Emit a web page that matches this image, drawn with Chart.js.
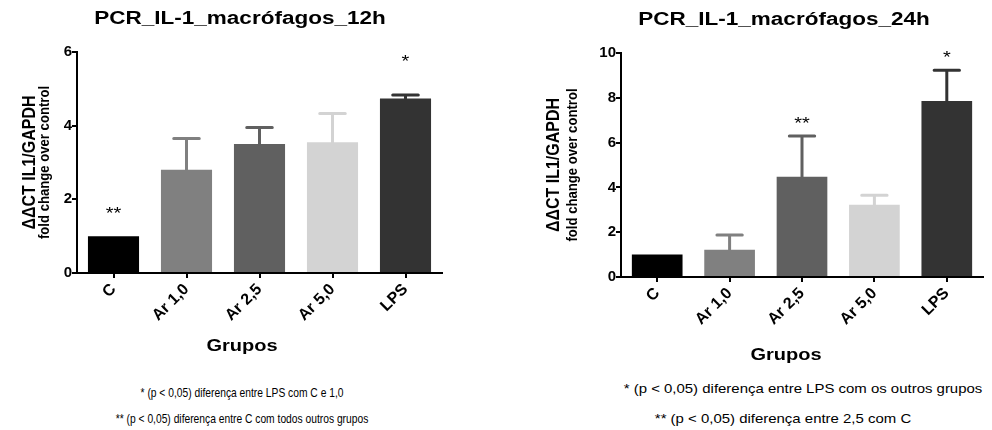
<!DOCTYPE html>
<html>
<head>
<meta charset="utf-8">
<script src="https://cdn.jsdelivr.net/npm/chart.js@4"></script>
<style>
  body { margin: 0; background: #fff; width: 992px; height: 430px; position: relative; overflow: hidden; }
  canvas { position: absolute; top: 0; }
  .nota { position: absolute; color: #000; white-space: nowrap; }
  .estreita { font: 13px "Liberation Sans", Arial, sans-serif; transform: translateX(-50%) scaleX(0.79); }
  .larga { font: 13px "Liberation Sans", Arial, sans-serif; transform: translateX(-50%) scaleX(1.15); }
</style>
</head>
<body>
<canvas id="grafico12h" width="496" height="370" style="left:0"></canvas>
<canvas id="grafico24h" width="496" height="370" style="left:496px"></canvas>

<div class="nota estreita" style="left:242px; top:385px">* (p &lt; 0,05) diferença entre LPS com C e 1,0</div>
<div class="nota estreita" style="left:242px; top:411px">** (p &lt; 0,05) diferença entre C com todos outros grupos</div>
<div class="nota larga" style="left:803px; top:381px">* (p &lt; 0,05) diferença entre LPS com os outros grupos</div>
<div class="nota larga" style="left:783px; top:411px">** (p &lt; 0,05) diferença entre 2,5 com C</div>

<script>
const grupos = ['C', 'Ar 1,0', 'Ar 2,5', 'Ar 5,0', 'LPS'];
const cores = ['#000000', '#808080', '#606060', '#d3d3d3', '#333333'];

// 12h
const media12h = [1.0, 2.80, 3.50, 3.55, 4.74];
const erro12h = [0, 0.85, 0.45, 0.78, 0.09];
const marca12h = ['**', '', '', '', '*'];
const marcaY12h = [1.7, null, null, null, 5.85];
const ticksY12h = [0, 2, 4, 6];

// 24h
const media24h = [1.0, 1.22, 4.48, 3.22, 7.86];
const erro24h = [0, 0.66, 1.81, 0.43, 1.37];
const marca24h = ['', '', '**', '', '*'];
const marcaY24h = [null, null, 7.0, null, 9.97];
const ticksY24h = [0, 2, 4, 6, 8, 10];

const fonte = '"Liberation Sans", Arial, sans-serif';
const esticar = 1.25; // a figura original esta esticada na horizontal

function texto(ctx, t, x, y, font, sx, sy, rot) {
    ctx.save();
    ctx.translate(x, y);
    if (rot) ctx.rotate(rot);
    ctx.scale(sx, sy);
    ctx.font = font;
    ctx.fillStyle = '#000';
    ctx.textAlign = 'center';
    ctx.textBaseline = 'middle';
    ctx.fillText(t, 0, 0);
    ctx.restore();
}

const desenhos = {
    id: 'desenhos',
    afterDatasetsDraw(chart, args, o) {
        const ctx = chart.ctx;
        const y = chart.scales.y;
        const meta = chart.getDatasetMeta(0);
        meta.data.forEach((bar, i) => {
            if (o.erro[i]) {
                const topo = y.getPixelForValue(o.media[i] + o.erro[i]);
                ctx.save();
                ctx.strokeStyle = cores[i];
                ctx.lineWidth = 3;
                ctx.lineCap = 'round';
                ctx.beginPath();
                ctx.moveTo(bar.x, bar.y);
                ctx.lineTo(bar.x, topo);
                ctx.moveTo(bar.x - bar.width / 4, topo);
                ctx.lineTo(bar.x + bar.width / 4, topo);
                ctx.stroke();
                ctx.restore();
            }
            if (o.marca[i]) {
                const py = y.getPixelForValue(o.marcaY[i]);
                ctx.save();
                ctx.translate(bar.x, py + 9);
                ctx.scale(esticar, 1);
                ctx.font = '16px ' + fonte;
                ctx.fillStyle = '#000';
                ctx.textAlign = 'center';
                ctx.textBaseline = 'alphabetic';
                ctx.fillText(o.marca[i], 0, 0);
                ctx.restore();
            }
        });
    },
    afterDraw(chart, args, o) {
        const ctx = chart.ctx;
        const a = chart.chartArea;
        const meio = (a.top + a.bottom) / 2;
        texto(ctx, o.titulo, o.tituloX, o.tituloY, 'bold 18px ' + fonte, esticar, 1);
        texto(ctx, 'ΔΔCT IL1/GAPDH', o.eixoY1, meio, 'bold 16px ' + fonte, 1, 1.15, -Math.PI / 2);
        texto(ctx, 'fold change over control', o.eixoY2, meio, 'bold 12.5px ' + fonte, 1.05, 1.1, -Math.PI / 2);
        texto(ctx, 'Grupos', o.gruposX, o.gruposY, 'bold 16px ' + fonte, esticar, 1);
    }
};

function criarGrafico(id, media, erro, marca, marcaY, ticksY, extra) {
    const ctx = document.getElementById(id).getContext('2d');
    return new Chart(ctx, {
        type: 'bar',
        data: {
            labels: grupos,
            datasets: [{
                data: media,
                backgroundColor: cores,
                borderWidth: 0,
                barPercentage: 0.7,
                categoryPercentage: 1
            }]
        },
        options: {
            responsive: false,
            animation: false,
            devicePixelRatio: 1,
            layout: { padding: extra.padding },
            plugins: {
                legend: { display: false },
                tooltip: { enabled: false },
                title: { display: false },
                desenhos: Object.assign({ media, erro, marca, marcaY }, extra)
            },
            scales: {
                y: {
                    min: 0,
                    max: ticksY[ticksY.length - 1],
                    afterBuildTicks: s => { s.ticks = ticksY.map(v => ({ value: v })); },
                    afterFit: s => { s.width = extra.larguraY; },
                    ticks: { color: '#000', padding: 0, font: { family: fonte, size: 15, weight: 'bold' } },
                    grid: { drawOnChartArea: false, drawTicks: true, tickLength: 5, color: '#000', lineWidth: 2 },
                    border: { display: true, color: '#000', width: 2 }
                },
                x: {
                    afterFit: s => { s.height = 62; },
                    ticks: { color: '#000', minRotation: 45, maxRotation: 45, padding: 2, font: { family: fonte, size: 16, weight: 'bold' } },
                    grid: { offset: false, drawOnChartArea: false, drawTicks: true, tickLength: 5, color: '#000', lineWidth: 2 },
                    border: { display: true, color: '#000', width: 2 }
                }
            }
        },
        plugins: [desenhos]
    });
}

criarGrafico('grafico12h', media12h, erro12h, marca12h, marcaY12h, ticksY12h, {
    padding: { left: 45, right: 54, top: 52, bottom: 35 },
    larguraY: 32,
    titulo: 'PCR_IL-1_macrófagos_12h', tituloX: 240, tituloY: 19,
    eixoY1: 30, eixoY2: 45,
    gruposX: 242, gruposY: 347
});

criarGrafico('grafico24h', media24h, erro24h, marca24h, marcaY24h, ticksY24h, {
    padding: { left: 95, right: 9, top: 53, bottom: 31 },
    larguraY: 30,
    titulo: 'PCR_IL-1_macrófagos_24h', tituloX: 288, tituloY: 20,
    eixoY1: 58, eixoY2: 77,
    gruposX: 290, gruposY: 356
});
</script>
</body>
</html>
